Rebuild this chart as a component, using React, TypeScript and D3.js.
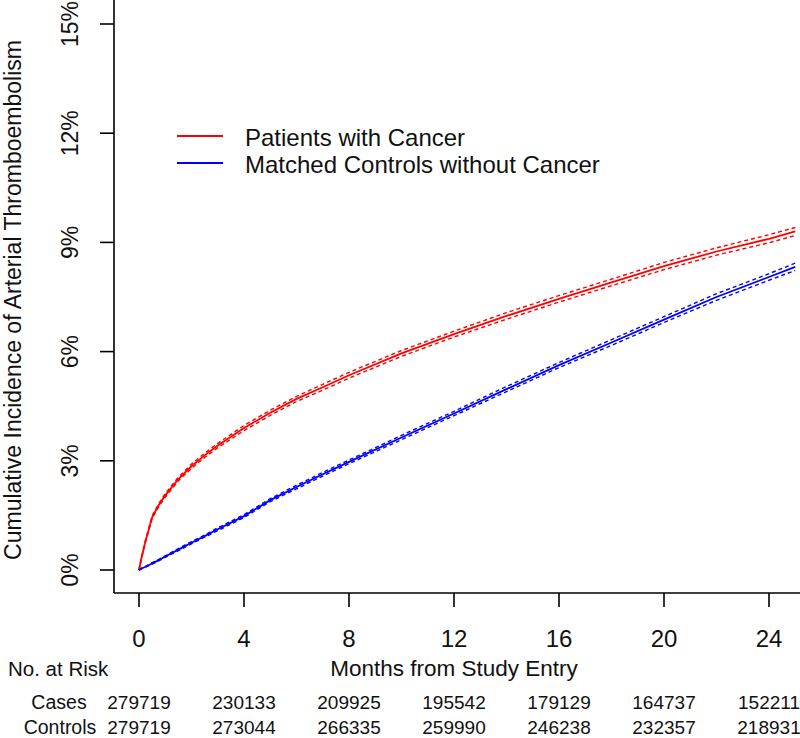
import React from "react";
import * as d3 from "d3";

const months = [0, 0.1, 0.25, 0.5, 0.75, 1, 1.5, 2, 2.5, 3, 4, 5, 6, 7, 8, 10, 12, 14, 16, 18, 20, 22, 24, 25];
const cancerPct = [0, 0.35, 0.8, 1.45, 1.78, 2.05, 2.5, 2.85, 3.15, 3.42, 3.9, 4.32, 4.7, 5.02, 5.35, 5.95, 6.48, 6.98, 7.45, 7.9, 8.35, 8.75, 9.1, 9.3];
const cancerHalfCI = [0, 0.02, 0.03, 0.04, 0.04, 0.05, 0.05, 0.06, 0.06, 0.06, 0.07, 0.07, 0.07, 0.08, 0.08, 0.08, 0.08, 0.09, 0.09, 0.09, 0.1, 0.1, 0.11, 0.11];
const controlPct = [0, 0.04, 0.09, 0.18, 0.27, 0.37, 0.56, 0.75, 0.93, 1.12, 1.48, 1.92, 2.28, 2.63, 2.97, 3.64, 4.3, 4.97, 5.63, 6.25, 6.88, 7.5, 8.05, 8.33];
const controlHalfCI = [0, 0.01, 0.01, 0.02, 0.02, 0.02, 0.03, 0.03, 0.03, 0.04, 0.04, 0.04, 0.05, 0.05, 0.05, 0.06, 0.06, 0.07, 0.07, 0.08, 0.08, 0.09, 0.09, 0.1];

const xTicks = [0, 4, 8, 12, 16, 20, 24];
const yTicks = [0, 3, 6, 9, 12, 15];
const riskCases = ["279719", "230133", "209925", "195542", "179129", "164737", "152211"];
const riskControls = ["279719", "273044", "266335", "259990", "246238", "232357", "218931"];

const seriesNames = ["Patients with Cancer", "Matched Controls without Cancer"];
const seriesColors = ["#ff0000", "#0000ff"];

const FONT = "'Liberation Sans', Arial, Helvetica, sans-serif";

export default function App() {
  const x = d3.scaleLinear().domain([0, 24]).range([139, 769]);
  const y = d3.scaleLinear().domain([0, 15]).range([570, 24]);

  const line = d3
    .line<[number, number]>()
    .x((d) => x(d[0]))
    .y((d) => y(d[1]));

  const mk = (vals: number[], off: number[], sign: number) =>
    line(months.map((m, i) => [m, vals[i] + sign * off[i]] as [number, number])) || "";

  const series = [
    { vals: cancerPct, ci: cancerHalfCI, color: seriesColors[0] },
    { vals: controlPct, ci: controlHalfCI, color: seriesColors[1] },
  ];

  const axisX = 114;
  const axisY = 593;

  return (
    <svg
      width={800}
      height={738}
      style={{ position: "absolute", left: 0, top: 0, background: "#fff" }}
      fontFamily={FONT}
    >
      <rect x={0} y={0} width={800} height={738} fill="#fff" />
      <defs>
        <clipPath id="plotclip">
          <rect x={axisX} y={0} width={800 - axisX} height={axisY} />
        </clipPath>
      </defs>

      <g clipPath="url(#plotclip)">
        {series.map((s, k) => (
          <g key={k}>
            <path d={mk(s.vals, s.ci, 1)} fill="none" stroke={s.color} strokeWidth={1.4} strokeDasharray="4,3" />
            <path d={mk(s.vals, s.ci, -1)} fill="none" stroke={s.color} strokeWidth={1.4} strokeDasharray="4,3" />
            <path d={mk(s.vals, s.ci, 0)} fill="none" stroke={s.color} strokeWidth={1.8} />
          </g>
        ))}
      </g>

      {/* L-shaped box */}
      <line x1={axisX} y1={0} x2={axisX} y2={axisY} stroke="#000" strokeWidth={1.6} />
      <line x1={axisX} y1={axisY} x2={800} y2={axisY} stroke="#000" strokeWidth={1.6} />

      {/* y ticks */}
      {yTicks.map((t) => (
        <g key={t}>
          <line x1={100} x2={axisX} y1={y(t)} y2={y(t)} stroke="#000" strokeWidth={1.6} />
          <text
            transform={`translate(78,${y(t)}) rotate(-90)`}
            textAnchor="middle"
            fontSize={23}
            fill="#111"
          >
            {t + "%"}
          </text>
        </g>
      ))}

      {/* x ticks */}
      {xTicks.map((t) => (
        <g key={t}>
          <line x1={x(t)} x2={x(t)} y1={axisY} y2={607} stroke="#000" strokeWidth={1.6} />
          <text x={x(t)} y={647} textAnchor="middle" fontSize={24} fill="#111">
            {t}
          </text>
        </g>
      ))}

      {/* axis titles */}
      <text
        transform={`translate(21,${300}) rotate(-90)`}
        textAnchor="middle"
        fontSize={23}
        fill="#111"
      >
        Cumulative Incidence of Arterial Thromboembolism
      </text>
      <text x={x(12)} y={676} textAnchor="middle" fontSize={22.5} fill="#111">
        Months from Study Entry
      </text>

      {/* risk table */}
      <text x={8} y={676} fontSize={20.5} fill="#111">
        No. at Risk
      </text>
      <text x={59} y={709} textAnchor="middle" fontSize={19.5} fill="#111">
        Cases
      </text>
      <text x={60} y={734} textAnchor="middle" fontSize={19.5} fill="#111">
        Controls
      </text>
      {xTicks.map((t, i) => (
        <g key={"r" + t}>
          <text x={x(t)} y={709} textAnchor="middle" fontSize={19} fill="#111">
            {riskCases[i]}
          </text>
          <text x={x(t)} y={734} textAnchor="middle" fontSize={19} fill="#111">
            {riskControls[i]}
          </text>
        </g>
      ))}

      {/* legend */}
      {seriesNames.map((n, i) => (
        <g key={n}>
          <line x1={177} x2={223} y1={136 + i * 27} y2={136 + i * 27} stroke={seriesColors[i]} strokeWidth={1.8} />
          <text x={245} y={146 + i * 27} fontSize={24} fill="#111">
            {n}
          </text>
        </g>
      ))}
    </svg>
  );
}
